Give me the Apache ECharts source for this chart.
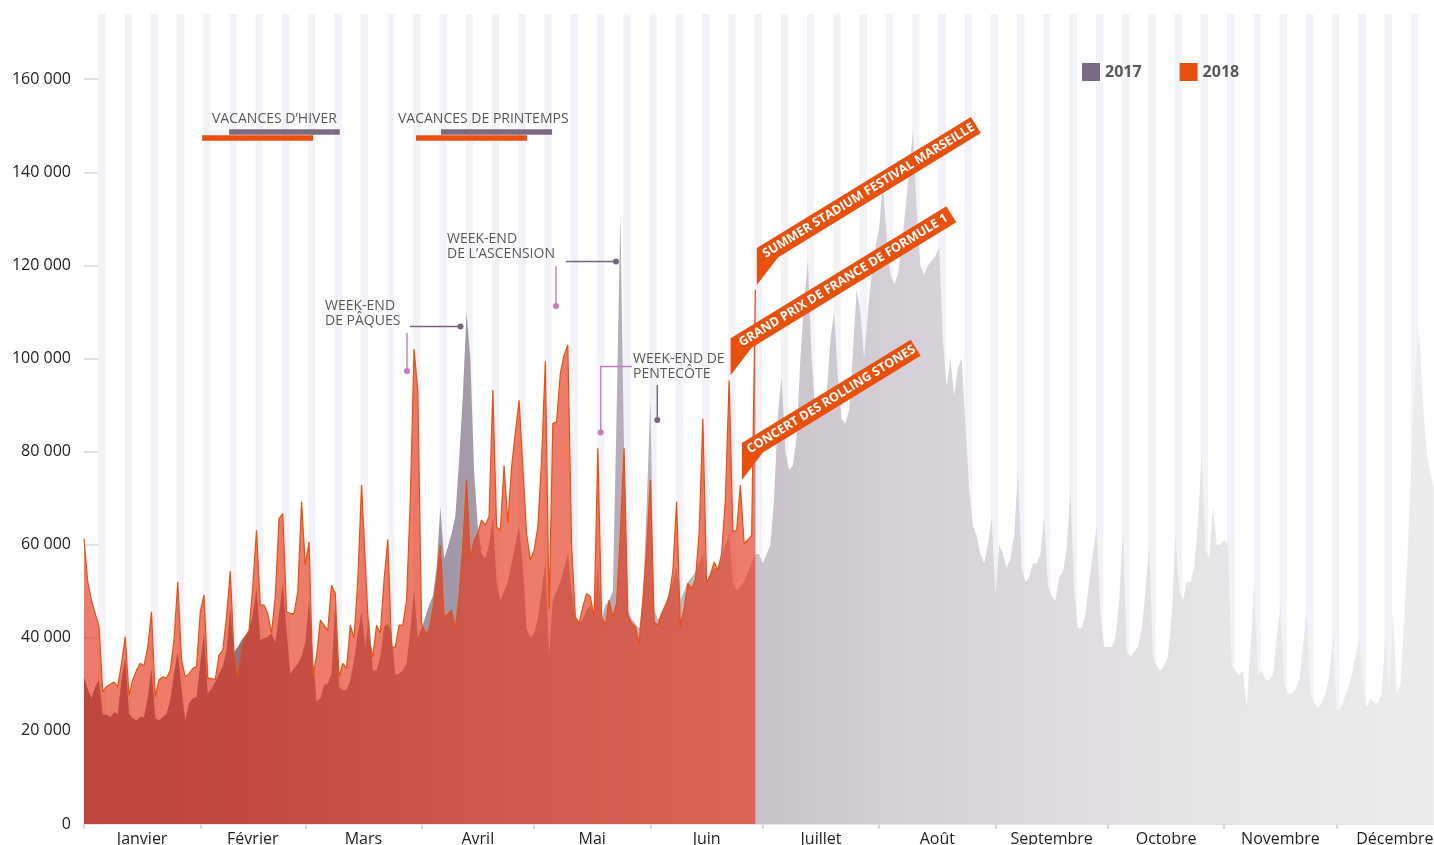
<!DOCTYPE html>
<html>
<head>
<meta charset="utf-8">
<script src="https://cdn.jsdelivr.net/npm/echarts@6/dist/echarts.min.js"></script>
<style>
  html, body { margin: 0; padding: 0; background: #fff; }
  #main { width: 1434px; height: 845px; }
</style>
</head>
<body>
<div id="main"></div>
<script>
// mois et graduations
var monthNames = ['Janvier', 'Février', 'Mars', 'Avril', 'Mai', 'Juin', 'Juillet', 'Août', 'Septembre', 'Octobre', 'Novembre', 'Décembre'];
var monthStarts = [0, 31, 59, 90, 120, 151, 181, 212, 243, 273, 304, 334, 365];
var yTicks = [0, 20000, 40000, 60000, 80000, 100000, 120000, 140000, 160000];

// fréquentation quotidienne 2017 (une ligne = une semaine)
var visits2017 = [
  31500, 29000, 27000, 29500, 31000, 23500, 23500,
  23000, 24000, 23700, 31000, 35600, 23700, 22700,
  22300, 23000, 23000, 27300, 33400, 22700, 22300,
  23000, 23700, 26600, 32300, 37000, 28800, 22300,
  25900, 27000, 27300, 34500, 41000, 28000, 29100,
  30500, 32300, 33800, 37300, 46300, 37000, 38000,
  39500, 40500, 41600, 45000, 50600, 39500, 39900,
  40200, 41000, 39000, 45000, 51700, 41600, 32300,
  33400, 34500, 36000, 39000, 48000, 36600, 26300,
  27000, 29800, 30200, 32300, 47700, 29500, 28800,
  28800, 30900, 35200, 41000, 45600, 38000, 45000,
  33000, 33000, 35900, 42400, 43000, 41000, 32000,
  32300, 33000, 34500, 41600, 50200, 40000, 42000,
  44500, 47000, 49000, 55000, 68000, 57000, 59500,
  62400, 66000, 78000, 92000, 110000, 100000, 76000,
  64000, 58000, 57000, 60000, 66000, 52000, 48000,
  50000, 52000, 56000, 60000, 64000, 55000, 42000,
  40000, 41000, 44000, 50000, 56000, 36000, 48000,
  50000, 52000, 55000, 58000, 50000, 44000, 43000,
  44000, 46000, 47000, 45000, 55000, 44000, 47000,
  48000, 50000, 88000, 131000, 80000, 46000, 44000,
  43000, 42000, 48000, 68000, 91000, 46000, 44000,
  45000, 47000, 50000, 52000, 55000, 48000, 50000,
  52000, 53000, 54000, 56000, 58000, 52000, 54000,
  55000, 55000, 57000, 60000, 62000, 52000, 50000,
  51000, 52000, 54000, 56000, 58000, 58000, 56000,
  58000, 60000, 70000, 88000, 96000, 80000, 76000,
  77000, 83000, 100000, 112000, 121000, 100000, 88000,
  88000, 89000, 92000, 104000, 110000, 96000, 87000,
  86000, 89000, 101000, 115000, 110000, 100000, 110000,
  118000, 124000, 128000, 138000, 126000, 118000, 116000,
  118000, 124000, 132000, 140000, 149000, 132000, 120000,
  118000, 120000, 121000, 122000, 124000, 104000, 94000,
  100000, 92000, 98000, 100000, 86000, 72000, 64000,
  62000, 58000, 56000, 60000, 66000, 49000, 60000,
  58000, 55000, 57000, 62000, 76000, 55000, 52000,
  53000, 56000, 56000, 58000, 66000, 51000, 49000,
  48000, 53000, 54000, 59000, 72000, 50000, 42000,
  42000, 45000, 52000, 58000, 64000, 45000, 38000,
  38000, 38000, 40000, 48000, 63000, 37000, 36000,
  37000, 38000, 42000, 50000, 60000, 36000, 34000,
  33000, 34000, 36000, 45000, 62000, 50000, 48000,
  52000, 52000, 55000, 65000, 80000, 59000, 57000,
  68000, 60000, 60000, 61000, 60000, 34000, 33000,
  32000, 33000, 25000, 38000, 51000, 32000, 33000,
  31000, 31000, 32000, 40000, 47000, 30000, 28000,
  28000, 29000, 31000, 38000, 46000, 28000, 26000,
  25000, 26000, 28000, 32000, 40000, 24000, 25000,
  27000, 29000, 32000, 36000, 40000, 30000, 25000,
  27000, 26000, 26000, 28000, 41000, 28000, 46000,
  28000, 30000, 44000, 60000, 80000, 98000, 106000,
  90000, 80000, 75000, 72000, 68000, 64000, 60000,
  56000
];

// fréquentation quotidienne 2018 (janvier -> fin juin)
var visits2018 = [
  61300, 52000, 48000, 45200, 42400, 28400, 29500,
  30000, 30500, 29500, 34500, 40200, 27700, 31000,
  33000, 34500, 34000, 38000, 45600, 27300, 31000,
  31600, 31300, 33000, 39500, 52000, 35200, 31600,
  32300, 33400, 33800, 45600, 49200, 31300, 31300,
  31000, 36300, 37300, 44500, 54300, 36600, 31300,
  38000, 40200, 41600, 51000, 63100, 47000, 47000,
  45200, 41000, 48800, 65600, 66700, 45600, 45200,
  45200, 49900, 69200, 55600, 60600, 31600, 36000,
  43800, 42700, 41600, 51300, 49500, 31600, 34500,
  33400, 42700, 39900, 52400, 72800, 56000, 39500,
  35900, 42700, 41000, 52400, 61100, 38000, 38000,
  42700, 42700, 48000, 69600, 102000, 93000, 43000,
  41000, 41700, 46000, 52000, 60000, 44500, 45000,
  46000, 42000, 49000, 60000, 74000, 57000, 61000,
  62400, 65300, 64200, 66000, 93200, 63800, 63100,
  77000, 64600, 76700, 84000, 91000, 76700, 62400,
  56700, 58800, 63800, 78200, 99400, 46000, 86000,
  86400, 96800, 100700, 102900, 60000, 44500, 43100,
  46700, 49500, 48800, 44500, 80700, 44500, 42700,
  48100, 44500, 47400, 62400, 80700, 44900, 43100,
  42400, 38800, 48100, 58800, 73900, 43400, 42700,
  45200, 47000, 48800, 54500, 69200, 42400, 46300,
  51700, 50600, 52400, 62400, 87100, 51700, 53500,
  56300, 54500, 58100, 69600, 95300, 62800, 63100,
  72800, 60300, 61000, 62000, 114700
];

// périodes de vacances (jour de début, jour de fin)
var hiver2017 = [38.7, 68.2];
var hiver2018 = [31.5, 61.1];
var printemps2017 = [95.2, 124.8];
var printemps2018 = [88.5, 118.1];

// événements 2018 signalés par un bandeau (jour du pic)
var events = [
  { text: 'SUMMER STADIUM FESTIVAL MARSEILLE', day: 179, len: 251 },
  { text: 'GRAND PRIX DE FRANCE DE FORMULE 1', day: 172, len: 253 },
  { text: 'CONCERT DES ROLLING STONES', day: 175, len: 198 }
];

var ORANGE = '#e8500e';
var PURPLE = '#7b6b82';
var FONT = '"Open Sans", "DejaVu Sans", sans-serif';

var monthMids = [];
for (var m = 0; m < 12; m++) monthMids.push((monthStarts[m] + monthStarts[m + 1]) / 2);

// bandes de week-end
var stripes = [];
for (var s = 3.75; s < 366; s += 7) stripes.push([{ xAxis: s }, { xAxis: s + 2 }]);

function toPairs(arr) {
  return arr.map(function (v, i) { return [i, v]; });
}
function fmtNum(v) {
  return String(v).replace(/\B(?=(\d{3})+(?!\d))/g, ' ');
}
function vacLine(range, level, color) {
  return [
    { coord: [range[0], level], lineStyle: { color: color } },
    { coord: [range[1], level] }
  ];
}

var myChart = echarts.init(document.getElementById('main'));

var option = {
  animation: false,
  grid: { left: 84, top: 14, width: 1369, height: 810, outerBoundsMode: 'none', containLabel: false },
  legend: {
    data: ['2017', '2018'],
    left: 1082,
    top: 63,
    padding: 0,
    icon: 'rect',
    itemWidth: 18,
    itemHeight: 18,
    itemGap: 38,
    itemStyle: { borderWidth: 0 },
    textStyle: { fontSize: 16, fontWeight: 'bold', color: '#595959', fontFamily: FONT }
  },
  xAxis: {
    type: 'value',
    min: 0,
    max: 365,
    splitLine: { show: false },
    axisLine: { lineStyle: { color: '#e3e3e3', width: 2 } },
    axisTick: { show: true, customValues: monthStarts, length: 5, lineStyle: { color: '#dadada', width: 2 } },
    axisLabel: {
      customValues: monthMids,
      margin: 7,
      fontSize: 16,
      color: '#222',
      fontFamily: FONT,
      formatter: function (v) {
        for (var i = 0; i < monthMids.length; i++) {
          if (Math.abs(monthMids[i] - v) < 0.01) return monthNames[i];
        }
        return '';
      }
    }
  },
  yAxis: {
    type: 'value',
    min: 0,
    max: 174000,
    interval: 20000,
    splitLine: { show: false },
    axisLine: { show: false },
    axisTick: { show: true, inside: true, length: 16, customValues: yTicks, lineStyle: { color: '#e2e2e2', width: 2 } },
    axisLabel: { customValues: yTicks, margin: 13, fontSize: 16, color: '#222', fontFamily: FONT, formatter: fmtNum }
  },
  series: [
    {
      // bandes de fond, sous les aires
      name: 'fond',
      type: 'line',
      z: 1,
      silent: true,
      symbol: 'none',
      data: [],
      markArea: {
        silent: true,
        itemStyle: { color: '#f3f2f8' },
        data: stripes
      }
    },
    {
      name: '2017',
      type: 'line',
      z: 3,
      color: PURPLE,
      symbol: 'none',
      silent: true,
      data: toPairs(visits2017),
      lineStyle: { width: 0 },
      areaStyle: {
        opacity: 1,
        // dégradé horizontal du violet foncé au gris très clair
        color: new echarts.graphic.LinearGradient(0, 0, 1, 0, [
          { offset: 0, color: '#7b6b82' },
          { offset: 0.12, color: '#86778d' },
          { offset: 0.28, color: '#a59aaa' },
          { offset: 0.4, color: '#b8afbb' },
          { offset: 0.49, color: '#c8c1ca' },
          { offset: 0.6, color: '#d5d0d7' },
          { offset: 0.74, color: '#e1dde2' },
          { offset: 0.82, color: '#e7e4e8' },
          { offset: 1, color: '#eeecef' }
        ])
      }
    },
    {
      name: '2018',
      type: 'line',
      z: 4,
      color: ORANGE,
      symbol: 'none',
      silent: true,
      data: toPairs(visits2018),
      lineStyle: { color: ORANGE, width: 1.2 },
      areaStyle: { color: 'rgba(228,50,22,0.64)', opacity: 1 },
      markLine: {
        silent: true,
        symbol: ['none', 'none'],
        label: { show: false },
        lineStyle: { type: 'solid', width: 5.5 },
        data: [
          vacLine(hiver2017, 148700, PURPLE),
          vacLine(hiver2018, 147500, ORANGE),
          vacLine(printemps2017, 148700, PURPLE),
          vacLine(printemps2018, 147500, ORANGE)
        ]
      }
    }
  ]
};

myChart.setOption(option);

// annotations
var TXT = '#595959';
var LINE_P = '#75667e';
var LINE_K = '#c47fbc';

function note(x, y, text) {
  return { type: 'text', x: x, y: y, z: 20,
    style: { text: text, fill: TXT, fontSize: 14, fontFamily: FONT, lineHeight: 14.5, verticalAlign: 'top' } };
}
function seg(pts, color) {
  return { type: 'polyline', z: 20, shape: { points: pts }, style: { stroke: color, lineWidth: 1.4, fill: null } };
}
function dot(x, y, color) {
  return { type: 'circle', z: 20, shape: { cx: x, cy: y, r: 3 }, style: { fill: color } };
}

var graphics = [
  note(212, 112, 'VACANCES D’HIVER'),
  note(398, 112, 'VACANCES DE PRINTEMPS'),
  note(325, 299, 'WEEK-END\nDE PÂQUES'),
  seg([[410, 326.5], [460.5, 326.5]], LINE_P), dot(460.5, 326.5, LINE_P),
  seg([[407, 333], [407, 371]], LINE_K), dot(407, 371, LINE_K),
  note(447, 232, 'WEEK-END\nDE L’ASCENSION'),
  seg([[566, 261.5], [616, 261.5]], LINE_P), dot(616, 261.5, LINE_P),
  seg([[556, 266], [556, 306]], LINE_K), dot(556, 306, LINE_K),
  note(633, 352, 'WEEK-END DE\nPENTECÔTE'),
  seg([[632, 366.5], [600.7, 366.5], [600.7, 432.5]], LINE_K), dot(600.7, 432.5, LINE_K),
  seg([[657.3, 385], [657.3, 420]], LINE_P), dot(657.3, 420, LINE_P)
];

// bandeaux orange ancrés sur les pics 2018
var ang = 31.5 * Math.PI / 180;
var ux = Math.cos(ang), uy = -Math.sin(ang);
var nx = Math.sin(ang), ny = Math.cos(ang);
var H = 19;
events.forEach(function (ev) {
  var p = myChart.convertToPixel({ gridIndex: 0 }, [ev.day, visits2018[ev.day]]);
  var tx = p[0] + 1.5, ty = p[1] - 5;
  var ax = tx, ay = ty - 37;
  var bx = ax + ev.len * ux, by = ay + ev.len * uy;
  var cx = bx + H * nx, cy = by + H * ny;
  var dx = ax + H * nx + 13 * ux, dy = ay + H * ny + 13 * uy;
  graphics.push({ type: 'polygon', z: 25,
    shape: { points: [[tx, ty], [ax, ay], [bx, by], [cx, cy], [dx, dy]] },
    style: { fill: ORANGE } });
  var mx = ax + (ev.len / 2) * ux + (H / 2) * nx;
  var my = ay + (ev.len / 2) * uy + (H / 2) * ny;
  graphics.push({ type: 'text', z: 26, x: mx, y: my, rotation: ang,
    style: { text: ev.text, fill: '#fff', fontSize: 12.5, fontWeight: 'bold', fontFamily: FONT,
      align: 'center', verticalAlign: 'middle' } });
});

myChart.setOption({ graphic: graphics });
</script>
</body>
</html>
